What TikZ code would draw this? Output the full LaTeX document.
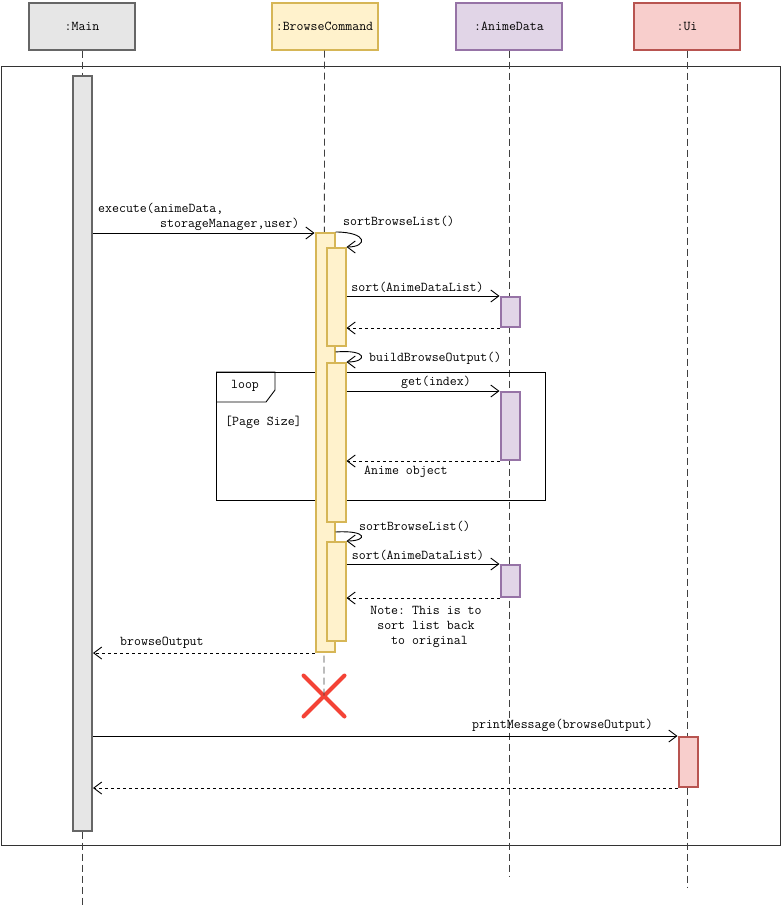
\documentclass[tikz,border=0pt]{standalone}
\usepackage{fontspec}
\usetikzlibrary{arrows.meta,shapes.misc}
\definecolor{gfill}{HTML}{E6E6E6}
\definecolor{gline}{HTML}{666666}
\definecolor{yfill}{HTML}{FFF2CC}
\definecolor{yline}{HTML}{D6B656}
\definecolor{pfill}{HTML}{E1D5E7}
\definecolor{pline}{HTML}{9673A6}
\definecolor{rfill}{HTML}{F8CECC}
\definecolor{rline}{HTML}{B85450}
\definecolor{xred}{HTML}{F44336}
\definecolor{frameline}{HTML}{333333}
\frenchspacing
\begin{document}
\begin{tikzpicture}[x=1pt,y=-1pt,
  lbl/.style={font=\ttfamily\fontsize{13.5}{15}\selectfont, inner sep=0pt},
  head/.style={draw, line width=2pt, minimum width=106pt, minimum height=47pt, inner sep=0pt, font=\ttfamily\fontsize{13.5}{15}\selectfont},
  act/.style={draw, line width=2pt, minimum width=19pt, inner sep=0pt, anchor=north west},
  life/.style={draw=black!75, dash pattern=on 7pt off 4pt, line width=0.8pt},
  msg/.style={-{Straight Barb[length=8pt,width=12pt]}, line width=0.9pt},
  ret/.style={msg, dash pattern=on 3pt off 3pt}
]
\useasboundingbox (0,0) rectangle (781,910);
% headers
\node[head, fill=gfill, draw=gline] (mainh) at (82,26) {:Main};
\node[head, fill=yfill, draw=yline] (bch) at (324.5,26) {:BrowseCommand};
\node[head, fill=pfill, draw=pline] (adh) at (509,26) {:AnimeData};
\node[head, fill=rfill, draw=rline] (uih) at (687,26) {:Ui};
% end points of lifelines
\coordinate (mainend) at (82,905);
\coordinate (adend) at (509,877);
\coordinate (uiend) at (687,887);
% destroy mark
\node[cross out, draw=xred, line width=4pt, line cap=round, minimum size=37pt, inner sep=0pt] (destroy) at (324,696) {};
% outer frame
\node[draw=frameline, line width=1pt, anchor=north west, minimum width=779pt, minimum height=779pt, inner sep=0pt] (frame) at (0.6,65.5) {};
% lifelines
\draw[life] (mainh.south) -- (mainend);
\draw[life] (bch.south) -- (destroy.center);
\draw[life] (adh.south) -- (adend);
\draw[life] (uih.south) -- (uiend);
% loop frame
\node[draw, line width=0.9pt, anchor=north west, minimum width=329pt, minimum height=128pt, inner sep=0pt] (loop) at (216,372) {};
\draw[line width=0.9pt] (loop.north west) -- (275,372) -- (275,390) -- (266,402) -- (216,402);
\node[lbl] (looplbl) at (245,386) {loop};
\node[lbl, anchor=west] (guard) at (225,422) {[Page Size]};
% activations
\node[act, fill=gfill, draw=gline, minimum height=755pt] (mainact) at (72,75) {};
\node[act, fill=yfill, draw=yline, minimum height=419pt] (bc0) at (314.5,232) {};
\node[act, fill=yfill, draw=yline, minimum height=98pt] (bc1) at (325.5,247) {};
\node[act, fill=yfill, draw=yline, minimum height=159pt] (bc2) at (325.5,362) {};
\node[act, fill=yfill, draw=yline, minimum height=99pt] (bc3) at (325.5,541) {};
\node[act, fill=pfill, draw=pline, minimum height=30pt] (ad1) at (499.5,296) {};
\node[act, fill=pfill, draw=pline, minimum height=68pt] (ad2) at (499.5,391) {};
\node[act, fill=pfill, draw=pline, minimum height=32pt] (ad3) at (499.5,564) {};
\node[act, fill=rfill, draw=rline, minimum height=50pt] (ui1) at (677.5,736) {};
% execute
\draw[msg] (mainact.east |- 0,233) -- (bc0.west |- 0,233);
\node[lbl, anchor=west] (ex1) at (98,209) {execute(animeData,};
\node[lbl, anchor=west] (ex2) at (160,224) {storageManager,user)};
% self call 1
\draw[msg] (bc0.north east) .. controls (368,232) and (368,247) .. (bc1.north east);
\node[lbl, anchor=west] (s1) at (343,221) {sortBrowseList()};
% sort 1
\draw[msg] (bc1.east |- ad1.north west) -- (ad1.north west);
\node[lbl] (srt1) at (417.5,287) {sort(AnimeDataList)};
\draw[ret] (ad1.south west) -- (bc1.east |- ad1.south west);
% build
\draw[msg] (bc0.east |- 0,352) .. controls (368,349) and (368,362) .. (bc2.north east);
\node[lbl, anchor=west] (bb) at (369,358) {buildBrowseOutput()};
% get
\draw[msg] (bc2.east |- ad2.north west) -- (ad2.north west);
\node[lbl] (gi) at (436,382) {get(index)};
\draw[ret] (ad2.south west) -- (bc2.east |- ad2.south west);
\node[lbl, anchor=west] (ao) at (364,472) {Anime object};
% self call 3
\draw[msg] (bc0.east |- 0,532) .. controls (368,530) and (368,541) .. (bc3.north east);
\node[lbl, anchor=west] (s3) at (359,526) {sortBrowseList()};
\draw[msg] (bc3.east |- ad3.north west) -- (ad3.north west);
\node[lbl] (srt3) at (418,555) {sort(AnimeDataList)};
\draw[ret] (ad3.south west) -- (bc3.east |- ad3.south west);
\node[lbl, align=center] (note) at (426,627) {Note: This is to\\sort list back\\\ to original};
% browseOutput return
\draw[ret] (bc0.south west) -- (mainact.east |- bc0.south west);
\node[lbl, anchor=west] (bo) at (120,643) {browseOutput};
% printMessage
\draw[msg] (mainact.east |- ui1.north west) -- (ui1.north west);
\node[lbl] (pm) at (562.5,725) {printMessage(browseOutput)};
\draw[ret] (ui1.south west) -- (mainact.east |- ui1.south west);
\end{tikzpicture}
\end{document}
